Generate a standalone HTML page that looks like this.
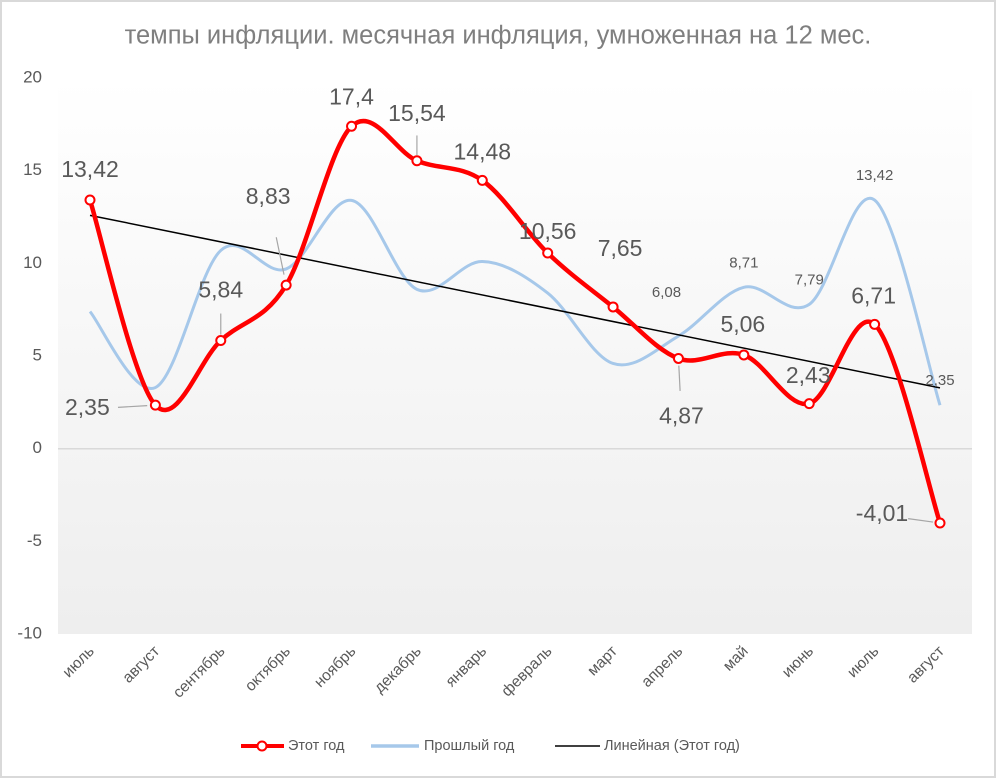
<!DOCTYPE html>
<html><head><meta charset="utf-8"><style>
html,body{margin:0;padding:0;background:#fff}
svg{display:block;font-family:"Liberation Sans","DejaVu Sans",sans-serif}
</style></head><body>
<svg id="chart" width="996" height="778" viewBox="0 0 996 778">
<defs>
<linearGradient id="bg" x1="0" y1="0" x2="0" y2="1">
<stop offset="0" stop-color="#ffffff"/><stop offset="1" stop-color="#eeeeee"/>
</linearGradient>
</defs>
<rect x="1" y="1" width="994" height="776" fill="#fff" stroke="#d9d9d9" stroke-width="2"/>
<text x="498" y="37" text-anchor="middle" dominant-baseline="middle" font-size="25.5" fill="#7f7f7f">темпы инфляции. месячная инфляция, умноженная на 12 мес.</text>
<rect x="58" y="78" width="914" height="556" fill="url(#bg)"/>
<g id="yaxis"></g><g id="xaxis"></g><g id="series"></g><g id="labels"></g>
<g>
<g>
<line x1="241" y1="746" x2="284" y2="746" stroke="#ff0000" stroke-width="4"/>
<circle cx="262" cy="746" r="4.5" fill="#fff" stroke="#ff0000" stroke-width="2"/>
<text x="288" y="746" dominant-baseline="middle" font-size="14.5" fill="#595959">Этот год</text></g>
<g>
<line x1="371" y1="746" x2="419" y2="746" stroke="#a6c8ea" stroke-width="3.5"/>
<text x="424" y="746" dominant-baseline="middle" font-size="14.5" fill="#595959">Прошлый год</text></g>
<g>
<line x1="555" y1="746" x2="600" y2="746" stroke="#000" stroke-width="1.5"/>
<text x="604" y="746" dominant-baseline="middle" font-size="14.5" fill="#595959">Линейная (Этот год)</text></g>
</g>
</svg>
<script>
const categories=["июль","август","сентябрь","октябрь","ноябрь","декабрь","январь","февраль","март","апрель","май","июнь","июль","август"];
const thisYear=[13.42,2.35,5.84,8.83,17.4,15.54,14.48,10.56,7.65,4.87,5.06,2.43,6.71,-4.01];
const lastYear=[7.4,3.3,10.7,9.7,13.4,8.6,10.1,8.4,4.6,6.08,8.71,7.79,13.42,2.35];
const lastYearShown=[null,null,null,null,null,null,null,null,null,"6,08","8,71","7,79","13,42","2,35"];
const yTicks=[20,15,10,5,0,-5,-10];
// label layout (offsets in px, not data)
const thisOff=[[0,-29],[-68,4],[0,-49],[-18,-87],[0,-28],[0,-46],[0,-27],[0,-20],[7,-57],[3,59],[-1,-29],[-1,-27],[-1,-27],[-58,-8]];
const thisLeader=[0,1,1,1,0,1,0,0,0,1,0,0,0,1];
const ns="http://www.w3.org/2000/svg";
const X0=90,X1=940,Y0=448.7,PX=18.53;
const x=i=>X0+i*(X1-X0)/(categories.length-1);
const y=v=>Y0-v*PX;
function mk(t,a,p){const e=document.createElementNS(ns,t);for(const k in a)e.setAttribute(k,a[k]);p.appendChild(e);return e;}
const yax=document.getElementById('yaxis'),xax=document.getElementById('xaxis'),ser=document.getElementById('series'),lab=document.getElementById('labels');
yTicks.forEach(v=>{
 const t=mk('text',{x:42,y:y(v),'text-anchor':'end','dominant-baseline':'middle','font-size':17,fill:'#595959'},yax);
 t.textContent=v;
 
 
});
const zl=mk('line',{x1:58,x2:972,y1:y(0),y2:y(0),stroke:'#d9d9d9','stroke-width':1.5},yax);


categories.forEach((c,i)=>{
 const t=mk('text',{x:x(i)+5,y:652,'text-anchor':'end','font-size':15.5,fill:'#595959',transform:`rotate(-45 ${x(i)+5} 652)`},xax);
 t.textContent=c;
 
 
});
function smooth(vals){
 const p=vals.map((v,i)=>[x(i),y(v)]);let d=`M${p[0][0]},${p[0][1]}`;
 for(let i=0;i<p.length-1;i++){
  const a=p[Math.max(0,i-1)],b=p[i],c=p[i+1],e=p[Math.min(p.length-1,i+2)];
  const c1=[b[0]+(c[0]-a[0])/6,b[1]+(c[1]-a[1])/6],c2=[c[0]-(e[0]-b[0])/6,c[1]-(e[1]-b[1])/6];
  d+=` C${c1[0]},${c1[1]} ${c2[0]},${c2[1]} ${c[0]},${c[1]}`;
 }
 return d;
}
const ly=mk('path',{d:smooth(lastYear),fill:'none',stroke:'#a6c8ea','stroke-width':3},ser);


const n=thisYear.length;let sx=0,sy=0,sxx=0,sxy=0;
thisYear.forEach((v,i)=>{sx+=i;sy+=v;sxx+=i*i;sxy+=i*v;});
const slope=(n*sxy-sx*sy)/(n*sxx-sx*sx),icpt=(sy-slope*sx)/n;
const tr=mk('line',{x1:x(0),y1:y(icpt),x2:x(n-1),y2:y(icpt+slope*(n-1)),stroke:'#000','stroke-width':1.5},ser);


const ty=mk('path',{d:smooth(thisYear),fill:'none',stroke:'#ff0000','stroke-width':4.5,'stroke-linejoin':'round'},ser);


thisYear.forEach((v,i)=>{
 const c=mk('circle',{cx:x(i),cy:y(v),r:4.5,fill:'#fff',stroke:'#ff0000','stroke-width':2},ser);
 
 
 const lx=x(i)+thisOff[i][0],lyy=y(v)+thisOff[i][1];
 if(thisLeader[i]){
  const ex=x(i)+(lx-x(i))*0.55,ey=y(v)+(lyy-y(v))*0.55;
  const l=mk('line',{x1:x(i)+(lx-x(i))*0.12,y1:y(v)+(lyy-y(v))*0.12,x2:ex,y2:ey,stroke:'#a6a6a6','stroke-width':1.2},lab);
  
  
 }
 const t=mk('text',{x:lx,y:lyy,'text-anchor':'middle','dominant-baseline':'middle','font-size':23,fill:'#595959'},lab);
 t.textContent=String(v).replace('.',',');
 
 
});
lastYear.forEach((v,i)=>{
 if(!lastYearShown[i])return;
 const t=mk('text',{x:x(i)+(i==9?-12:0),y:y(v)+(i==9?-43:-24),'text-anchor':'middle','dominant-baseline':'middle','font-size':15,fill:'#595959'},lab);
 t.textContent=lastYearShown[i];
 
 
});
</script>
</body></html>
